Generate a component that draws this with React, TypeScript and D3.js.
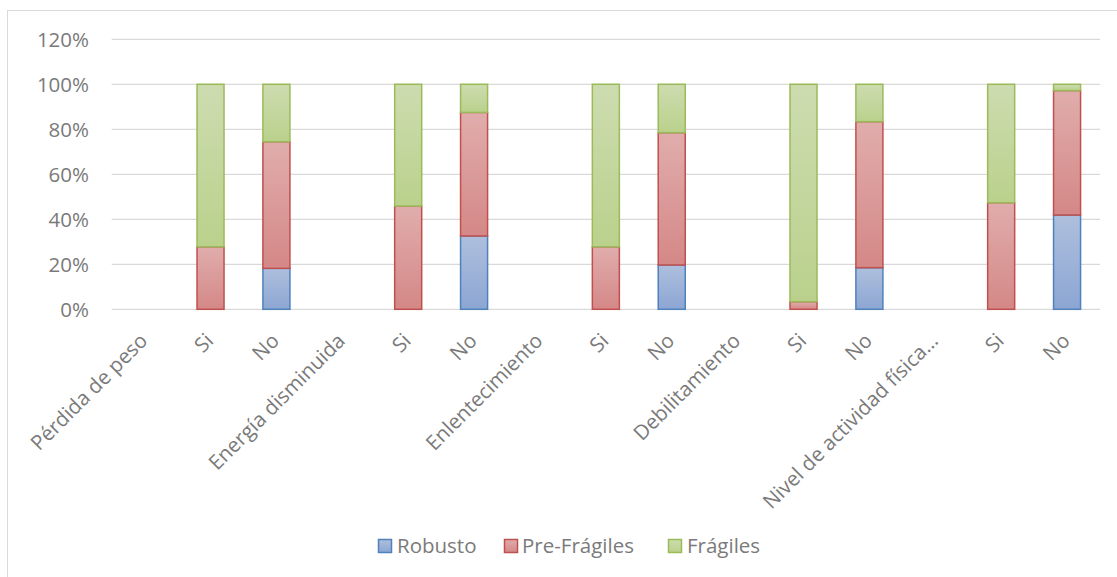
import React from "react";
import * as d3 from "d3";

const categories = [
  "Pérdida de peso", "Si", "No",
  "Energía disminuida", "Si", "No",
  "Enlentecimiento", "Si", "No",
  "Debilitamiento", "Si", "No",
  "Nivel de actividad física...", "Si", "No",
];
const robusto = [0, 0, 18.2, 0, 0, 32.6, 0, 0, 19.7, 0, 0, 18.5, 0, 0, 41.9];
const preFragiles = [0, 27.8, 56.3, 0, 45.9, 54.9, 0, 27.8, 58.8, 0, 3.4, 64.9, 0, 47.4, 55.3];
const fragiles = [0, 72.2, 25.5, 0, 54.1, 12.5, 0, 72.2, 21.5, 0, 96.6, 16.6, 0, 52.6, 2.8];
const yTicks = [0, 20, 40, 60, 80, 100, 120];
const seriesNames = ["Robusto", "Pre-Frágiles", "Frágiles"];

const styles = [
  { top: "#aebfdd", bottom: "#8ca6d3", stroke: "#4f81bd" },
  { top: "#e0adac", bottom: "#d48887", stroke: "#c0504d" },
  { top: "#cddcb0", bottom: "#bad18c", stroke: "#9bbb59" },
];

const W = 1117, H = 577;
const plotLeft = 111.7, plotRight = 1100, plotTop = 39.3, plotBottom = 309.3;
const FONT = "'Open Sans', 'DejaVu Sans', sans-serif";
const TXT = "#7a7a7a";
const FS = 20.5;

export default function App() {
  const x = d3.scaleBand<string>().domain(categories.map((_, i) => String(i))).range([plotLeft, plotRight]).paddingInner(0.59).paddingOuter(0.295);
  const y = d3.scaleLinear().domain([0, 120]).range([plotBottom, plotTop]);
  const rows = categories.map((c, i) => ({ key: String(i), r: robusto[i], p: preFragiles[i], f: fragiles[i] }));
  const stack = d3.stack<any>().keys(["r", "p", "f"])(rows);
  const legendItems = [
    { sq: 378, tx: 397 },
    { sq: 504, tx: 522 },
    { sq: 668, tx: 687 },
  ];
  return (
    <svg width={W} height={H} style={{ position: "absolute", left: 0, top: 0, background: "#fff" }}>
      <defs>
        {styles.map((s, i) => (
          <linearGradient key={i} id={`g${i}`} x1="0" y1="0" x2="0" y2="1">
            <stop offset="0" stopColor={s.top} />
            <stop offset="1" stopColor={s.bottom} />
          </linearGradient>
        ))}
      </defs>
      <rect x={7.5} y={10.5} width={W} height={H} fill="none" stroke="#d9d9d9" strokeWidth={1} />
      {yTicks.map((t) => (
        <g key={t}>
          <line x1={plotLeft} x2={plotRight} y1={y(t)} y2={y(t)} stroke="#d9d9d9" strokeWidth={1.3} />
          <text x={89} y={y(t)} dy="0.36em" textAnchor="end" fontFamily={FONT} fontSize={FS} fill={TXT}>{t}%</text>
        </g>
      ))}
      {stack.map((layer, si) => (
        <g key={si}>
          {layer.map((d, i) => {
            const v = d[1] - d[0];
            if (v <= 0) return null;
            const bx = x(String(i))!;
            return (
              <rect key={i} x={bx} width={x.bandwidth()} y={y(d[1])} height={y(d[0]) - y(d[1])}
                fill={`url(#g${si})`} stroke={styles[si].stroke} strokeWidth={1.5} />
            );
          })}
        </g>
      ))}
      {categories.map((c, i) => {
        const cx = x(String(i))! + x.bandwidth() / 2;
        return (
          <text key={i} transform={`translate(${cx - 1},${337}) rotate(-45)`} textAnchor="end" dy="0.35em"
            fontFamily={FONT} fontSize={FS} fill={TXT}>{c}</text>
        );
      })}
      {seriesNames.map((n, i) => (
        <g key={n}>
          <rect x={legendItems[i].sq + 0.5} y={539.5} width={13} height={13} fill={`url(#g${i})`} stroke={styles[i].stroke} strokeWidth={1.5} />
          <text x={legendItems[i].tx} y={546} dy="0.36em" fontFamily={FONT} fontSize={FS} fill={TXT}>{n}</text>
        </g>
      ))}
    </svg>
  );
}
